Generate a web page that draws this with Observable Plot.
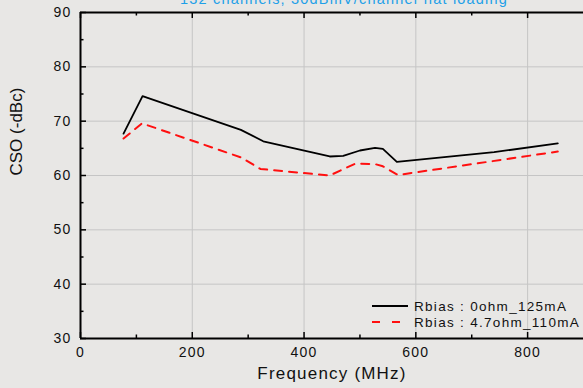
<!DOCTYPE html>
<html>
<head>
<meta charset="utf-8">
<script src="https://cdn.jsdelivr.net/npm/d3@7"></script>
<script src="https://cdn.jsdelivr.net/npm/@observablehq/plot@0.6"></script>
<style>
  html, body { margin: 0; padding: 0; background: #e8e7e5; overflow: hidden; }
  #wrap { position: relative; width: 583px; height: 388px; font-family: "Liberation Sans", Arial, sans-serif; }
  #wrap svg text { font-family: "Liberation Sans", Arial, sans-serif; }
  .wide text { letter-spacing: 1.2px; }
  .legend { position: absolute; left: 372px; top: 298px; font-size: 13.5px; letter-spacing: 1.3px; color: #111; white-space: nowrap; }
  .legend .row { display: flex; align-items: center; height: 16.3px; }
  .legend svg { width: 36px; height: 8px; margin-right: 6px; overflow: visible; }
</style>
</head>
<body>
<div id="wrap"></div>
<script>
// CSO versus frequency for two bias settings
const seriesNames = ["Rbias : 0ohm_125mA", "Rbias : 4.7ohm_110mA"];
const freqA = [77, 111, 287, 327, 446, 470, 500, 527, 541, 566, 740, 854];
const csoA  = [67.7, 74.6, 68.4, 66.3, 63.5, 63.6, 64.6, 65.1, 64.9, 62.5, 64.3, 65.9];
const freqB = [77, 110, 288, 322, 446, 492, 527, 541, 568, 854];
const csoB  = [66.8, 69.6, 63.3, 61.2, 60.0, 62.2, 62.1, 61.7, 60.1, 64.4];

const title = "132 channels, 30dBmV/channel flat loading";
const xLabel = "Frequency (MHz)";
const yLabel = "CSO (-dBc)";
const xTickLabels = [0, 200, 400, 600, 800];
const xMinorTicks = [100, 300, 500, 700];
const xGridLines = [200, 400, 600, 800];
const yTickLabels = [30, 40, 50, 60, 70, 80, 90];
const yMinorTicks = [35, 45, 55, 65, 75, 85];
const yGridLines = [40, 50, 60, 70, 80];

const rowsA = freqA.map((f, i) => ({f, v: csoA[i]}));
const rowsB = freqB.map((f, i) => ({f, v: csoB[i]}));

const W = 583, H = 388, mt = 12, mb = 50, ml = 80, mr = 0;
const fh = H - mt - mb, fw = W - ml - mr;

const chart = Plot.plot({
  width: W, height: H,
  marginTop: mt, marginBottom: mb, marginLeft: ml, marginRight: mr,
  style: {background: "#e8e7e5", overflow: "visible"},
  x: {domain: [0, 900]},
  y: {domain: [30, 90]},
  marks: [
    // grid
    Plot.ruleX(xGridLines, {x: d => d, stroke: "#c5c5c5", strokeWidth: 1}),
    Plot.ruleY(yGridLines, {y: d => d, stroke: "#c5c5c5", strokeWidth: 1}),
    // data
    Plot.line(rowsB, {x: "f", y: "v", stroke: "#ff1010", strokeWidth: 2, strokeDasharray: "8,7"}),
    Plot.line(rowsA, {x: "f", y: "v", stroke: "#000", strokeWidth: 1.8}),
    // borders
    Plot.ruleY([30], {stroke: "#000", strokeWidth: 2}),
    Plot.ruleY([90], {stroke: "#000", strokeWidth: 2}),
    Plot.ruleX([0], {stroke: "#000", strokeWidth: 2}),
    // inward ticks, bottom and top
    Plot.tickX(xTickLabels, {x: d => d, insetTop: fh - 6, stroke: "#000", strokeWidth: 1.5}),
    Plot.tickX(xMinorTicks, {x: d => d, insetTop: fh - 3.5, stroke: "#000", strokeWidth: 1.5}),
    Plot.tickX(xTickLabels, {x: d => d, insetBottom: fh - 6, stroke: "#000", strokeWidth: 1.5}),
    Plot.tickX(xMinorTicks, {x: d => d, insetBottom: fh - 3.5, stroke: "#000", strokeWidth: 1.5}),
    // inward ticks, left
    Plot.tickY(yTickLabels, {y: d => d, insetRight: fw - 6, stroke: "#000", strokeWidth: 1.5}),
    Plot.tickY(yMinorTicks, {y: d => d, insetRight: fw - 3.5, stroke: "#000", strokeWidth: 1.5}),
    // tick labels
    Plot.axisX(xTickLabels, {tickSize: 0, tickPadding: 9, label: null, fontSize: 14, fill: "#111", className: "wide"}),
    Plot.axisY(yTickLabels, {tickSize: 0, tickPadding: 9, label: null, fontSize: 14, fill: "#111", className: "wide"}),
    // titles
    Plot.text([xLabel], {text: d => d, frameAnchor: "bottom", dy: 40, fontSize: 17, fill: "#111", className: "wide"}),
    Plot.text([yLabel], {text: d => d, frameAnchor: "left", dx: -64, rotate: -90, fontSize: 17, fill: "#111"}),
    Plot.text([title], {text: d => d, frameAnchor: "top", lineAnchor: "bottom", dx: 12, dy: -9, fontSize: 14.5, fill: "#1ea0e8", className: "wide"})
  ]
});

const wrap = document.getElementById("wrap");
wrap.appendChild(chart);

// legend with line samples
const legend = document.createElement("div");
legend.className = "legend";
const styles = [
  {stroke: "#000", width: 1.8, dash: ""},
  {stroke: "#ff1010", width: 2, dash: "8,12"}
];
seriesNames.forEach((name, i) => {
  const row = document.createElement("div");
  row.className = "row";
  const s = styles[i];
  row.innerHTML = `<svg viewBox="0 0 36 8"><line x1="0" x2="36" y1="4" y2="4" stroke="${s.stroke}" stroke-width="${s.width}" ${s.dash ? `stroke-dasharray="${s.dash}"` : ""}/></svg><span>${name}</span>`;
  legend.appendChild(row);
});
wrap.appendChild(legend);
</script>
</body>
</html>
